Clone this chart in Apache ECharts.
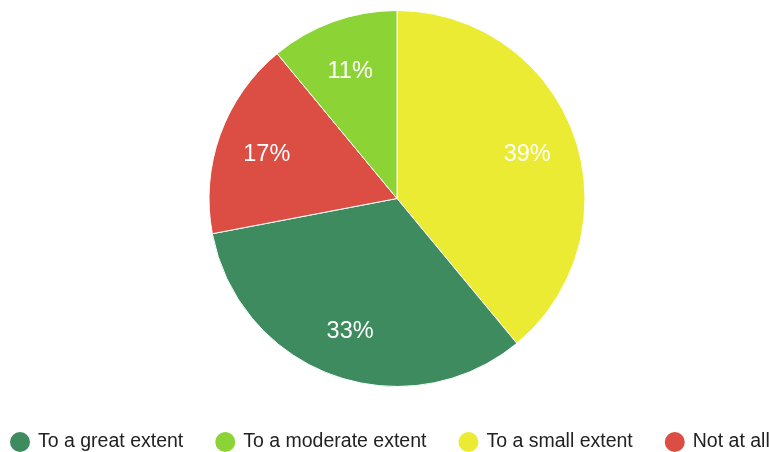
<!DOCTYPE html>
<html>
<head>
<meta charset="utf-8">
<script src="https://cdn.jsdelivr.net/npm/echarts@6/dist/echarts.min.js"></script>
<style>
  html, body { margin: 0; padding: 0; background: #fff; }
  #chart { width: 769px; height: 452px; }
</style>
</head>
<body>
<div id="chart"></div>
<script>
// Slices in clockwise order starting at 12 o'clock
const sliceNames = ['To a small extent', 'To a great extent', 'Not at all', 'To a moderate extent'];
const sliceValues = [39, 33, 17, 11];
const sliceColors = ['#ebeb33', '#3d8b5f', '#dc4d43', '#8cd335'];
// Legend order
const legendNames = ['To a great extent', 'To a moderate extent', 'To a small extent', 'Not at all'];

const pieData = sliceNames.map((n, i) => ({ name: n, value: sliceValues[i], itemStyle: { color: sliceColors[i] } }));
const center = [397, 198.5];
const R = 188;
const font = 'Liberation Sans, Arial, sans-serif';

const chart = echarts.init(document.getElementById('chart'), null, { renderer: 'canvas' });
chart.setOption({
  animation: false,
  legend: {
    data: legendNames,
    top: 430,
    left: 8,
    width: 900,
    padding: 0,
    icon: 'circle',
    itemWidth: 22,
    itemHeight: 22,
    itemGap: 30,
    textStyle: { fontFamily: font, fontSize: 19.5, color: '#222', padding: [0, 0, 0, 2] }
  },
  series: [
    {
      type: 'pie',
      center: center,
      radius: [0, R],
      startAngle: 90,
      clockwise: true,
      data: pieData,
      label: { show: false },
      labelLine: { show: false },
      itemStyle: { borderColor: '#fff', borderWidth: 1 }
    },
    {
      // transparent ring used only to place the percentage labels further out
      type: 'pie',
      center: center,
      radius: [R * 0.44, R],
      startAngle: 90,
      clockwise: true,
      silent: true,
      data: sliceNames.map((n, i) => ({ name: n, value: sliceValues[i] })),
      itemStyle: { color: 'rgba(0,0,0,0)' },
      label: {
        show: true,
        position: 'inside',
        offset: [0, 3],
        formatter: p => p.value + '%',
        color: '#fff',
        fontFamily: font,
        fontSize: 23.5,
        fontWeight: 'normal'
      },
      labelLine: { show: false }
    }
  ]
});
</script>
</body>
</html>
